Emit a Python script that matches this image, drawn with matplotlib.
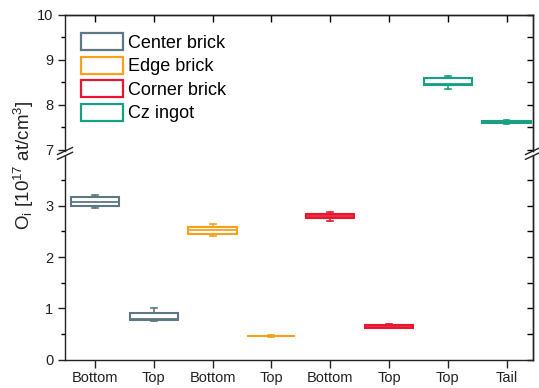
import matplotlib
matplotlib.use("Agg")
import matplotlib.pyplot as plt
from matplotlib.patches import Patch
from matplotlib.lines import Line2D
from matplotlib.ticker import MultipleLocator, FixedLocator

plt.rcParams['font.family'] = ['Liberation Sans', 'DejaVu Sans']
plt.rcParams['mathtext.fontset'] = 'custom'
plt.rcParams['mathtext.rm'] = 'Liberation Sans'
plt.rcParams['mathtext.it'] = 'Liberation Sans:italic'

# Oxygen content per sample position (box statistics)
groups = ['Center brick', 'Edge brick', 'Corner brick', 'Cz ingot']
colors = ['#5d7883', '#f9a01b', '#e8162f', '#17a082']
tick_labels = ['Bottom', 'Top', 'Bottom', 'Top', 'Bottom', 'Top', 'Top', 'Tail']
group_idx = [0, 0, 1, 1, 2, 2, 3, 3]

q1 = [3.00, 0.775, 2.45, 0.455, 2.756, 0.625, 8.44, 7.59]
med = [3.08, 0.80, 2.53, 0.462, 2.80, 0.65, 8.47, 7.615]
q3 = [3.165, 0.915, 2.595, 0.47, 2.84, 0.675, 8.587, 7.64]
whislo = [2.96, 0.75, 2.41, 0.45, 2.70, 0.61, 8.34, 7.57]
whishi = [3.21, 1.00, 2.64, 0.475, 2.885, 0.69, 8.64, 7.66]

positions = list(range(1, len(tick_labels) + 1))

fig = plt.figure(figsize=(5.39, 3.88), dpi=100)
ax_top = fig.add_axes([0.1206, 0.6108, 0.8683, 0.3513])
ax_bot = fig.add_axes([0.1206, 0.0729, 0.8683, 0.5263])

xlim = (0.49, 8.45)


def draw_boxes(ax, idx):
    stats = []
    for i in idx:
        stats.append(dict(q1=q1[i], med=med[i], q3=q3[i],
                          whislo=whislo[i], whishi=whishi[i], fliers=[]))
    res = ax.bxp(stats, positions=[positions[i] for i in idx], widths=0.82,
                 patch_artist=True, showfliers=False, capwidths=0.1)
    for k, i in enumerate(idx):
        c = colors[group_idx[i]]
        res['boxes'][k].set(facecolor='white', edgecolor=c, linewidth=1.5)
        res['medians'][k].set(color=c, linewidth=1.3)
        for w in res['whiskers'][2 * k:2 * k + 2]:
            w.set(color=c, linewidth=1.2)
        for cp in res['caps'][2 * k:2 * k + 2]:
            cp.set(color=c, linewidth=1.2)


draw_boxes(ax_bot, [0, 1, 2, 3, 4, 5])
draw_boxes(ax_top, [6, 7])

for ax in (ax_top, ax_bot):
    ax.set_xlim(*xlim)
    for s in ax.spines.values():
        s.set_linewidth(1.0)
        s.set_color('#222222')
    ax.yaxis.set_minor_locator(MultipleLocator(0.5))
    ax.tick_params(axis='y', which='major', direction='out', length=5,
                   width=1.0, labelsize=10.5, colors='#222222', right=False)
    ax.tick_params(axis='y', which='minor', direction='out', length=3,
                   width=1.0, right=False)
    # inward ticks on the right-hand spine
    sec = ax.secondary_yaxis('right')
    sec.yaxis.set_major_locator(MultipleLocator(0.5))
    sec.tick_params(direction='in', length=4, width=1.0, labelright=False)
    sec.spines['right'].set_linewidth(1.0)
    sec.spines['right'].set_color('#222222')

ax_top.set_ylim(6.97, 10)
ax_top.yaxis.set_major_locator(MultipleLocator(1))
ax_top.spines['bottom'].set_visible(False)
ax_top.tick_params(axis='x', bottom=False, labelbottom=False, top=False)
ax_top.set_xticks(positions)
top_sec = ax_top.secondary_xaxis('top')
top_sec.set_xticks(positions)
top_sec.tick_params(direction='in', length=5, width=1.0, labeltop=False)
top_sec.spines['top'].set_linewidth(1.0)
top_sec.spines['top'].set_color('#222222')

ax_bot.set_ylim(0, 3.98)
ax_bot.yaxis.set_major_locator(FixedLocator([0, 1, 2, 3]))
ax_bot.spines['top'].set_visible(False)
ax_bot.set_xticks(positions)
ax_bot.set_xticklabels(tick_labels)
ax_bot.tick_params(axis='x', direction='out', length=6, width=1.0,
                   labelsize=10.5, colors='#222222', pad=2)

# axis break marks on both side spines
W, H = 539.0, 388.0
for xs in (65, 533):
    for yc in (151.0, 155.8):
        fig.add_artist(Line2D([(xs - 7.5) / W, (xs + 7.5) / W],
                              [1 - (yc + 3.5) / H, 1 - (yc - 3.5) / H],
                              transform=fig.transFigure, color='#222222',
                              linewidth=1.0))

handles = [Patch(facecolor='white', edgecolor=c, linewidth=1.6) for c in colors]
ax_top.legend(handles, groups, loc='upper left', bbox_to_anchor=(0.0335, 0.865),
              frameon=False, fontsize=13, handlelength=2.33, handleheight=1.1,
              handletextpad=0.3, labelspacing=0.26, borderpad=0,
              borderaxespad=0)

fig.text(24 / W, 1 - 165 / H, r'O$_\mathrm{i}$ [10$^{17}$ at/cm$^3$]',
         rotation=90, ha='center', va='center', fontsize=13.5, color='#222222')

fig.savefig('out.png', dpi=100)
